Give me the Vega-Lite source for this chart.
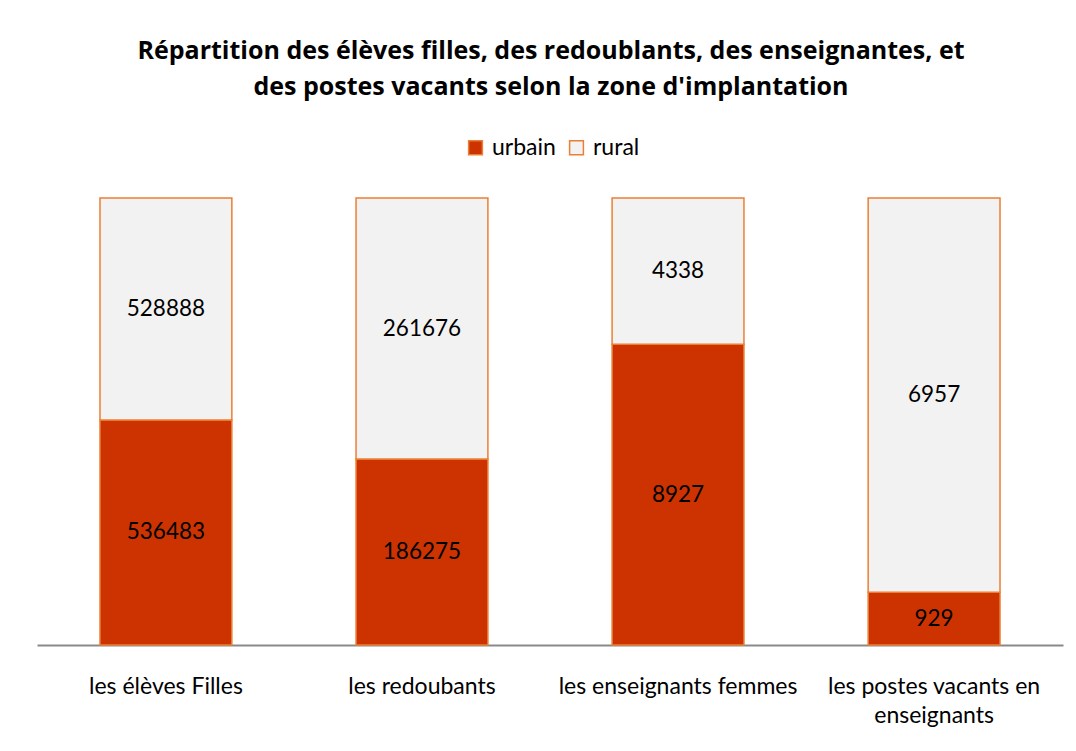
{
  "$schema": "https://vega.github.io/schema/vega-lite/v6.json",
  "autosize": "none",
  "width": 1026,
  "height": 447,
  "padding": {"left": 37, "top": 198, "right": 13, "bottom": 106},
  "background": "white",
  "title": {
    "text": ["Répartition des élèves filles, des redoublants, des enseignantes, et", "des postes vacants selon la zone d'implantation"],
    "font": "Open Sans",
    "fontSize": 25,
    "fontWeight": "bold",
    "color": "#000000",
    "lineHeight": 36,
    "anchor": "middle",
    "offset": 36,
    "dx": 1
  },
  "data": {
    "values": [
      {"categorie": "les élèves Filles", "zone": "urbain", "ordre": 1, "valeur": 536483},
      {"categorie": "les élèves Filles", "zone": "rural", "ordre": 2, "valeur": 528888},
      {"categorie": "les redoubants", "zone": "urbain", "ordre": 1, "valeur": 186275},
      {"categorie": "les redoubants", "zone": "rural", "ordre": 2, "valeur": 261676},
      {"categorie": "les enseignants femmes", "zone": "urbain", "ordre": 1, "valeur": 8927},
      {"categorie": "les enseignants femmes", "zone": "rural", "ordre": 2, "valeur": 4338},
      {"categorie": "les postes vacants en enseignants", "zone": "urbain", "ordre": 1, "valeur": 929},
      {"categorie": "les postes vacants en enseignants", "zone": "rural", "ordre": 2, "valeur": 6957}
    ]
  },
  "transform": [
    {"stack": "valeur", "groupby": ["categorie"], "sort": [{"field": "ordre", "order": "ascending"}], "offset": "normalize", "as": ["y0", "y1"]},
    {"calculate": "(datum.y0 + datum.y1) / 2", "as": "ymid"}
  ],
  "encoding": {
    "x": {
      "field": "categorie",
      "type": "nominal",
      "sort": null,
      "scale": {"paddingInner": 0.485, "paddingOuter": 0.246},
      "axis": {
        "title": null,
        "labelAngle": 0,
        "labelFont": "Lato",
        "labelFontSize": 23,
        "labelColor": "#000000",
        "labelPadding": 30,
        "labelLineHeight": 29,
        "labelBaseline": "top",
        "labelLimit": 0,
        "ticks": false,
        "domainColor": "#898989",
        "domainWidth": 2,
        "labelExpr": "datum.value == 'les postes vacants en enseignants' ? ['les postes vacants en', 'enseignants'] : datum.value"
      }
    }
  },
  "layer": [
    {
      "mark": {"type": "bar", "stroke": "#EB7F35", "strokeWidth": 1.5},
      "encoding": {
        "y": {"field": "y0", "type": "quantitative", "scale": {"domain": [0, 1]}, "axis": null},
        "y2": {"field": "y1"},
        "color": {
          "field": "zone",
          "type": "nominal",
          "scale": {"domain": ["urbain", "rural"], "range": ["#CC3300", "#F2F2F2"]},
          "legend": {
            "title": null,
            "orient": "none",
            "direction": "horizontal",
            "legendX": 427,
            "legendY": -62,
            "symbolType": "square",
            "symbolSize": 190,
            "symbolStrokeColor": "#EB7F35",
            "symbolStrokeWidth": 1.5,
            "labelFont": "Lato",
            "labelFontSize": 23,
            "labelColor": "#000000",
            "labelOffset": 5,
            "columnPadding": 9,
            "symbolOffset": 0
          }
        }
      }
    },
    {
      "mark": {"type": "text", "font": "Lato", "fontSize": 22.5, "color": "#000000", "baseline": "middle"},
      "encoding": {
        "y": {"field": "ymid", "type": "quantitative", "scale": {"domain": [0, 1]}},
        "text": {"field": "valeur", "type": "nominal"}
      }
    }
  ],
  "config": {"view": {"stroke": null}}
}
